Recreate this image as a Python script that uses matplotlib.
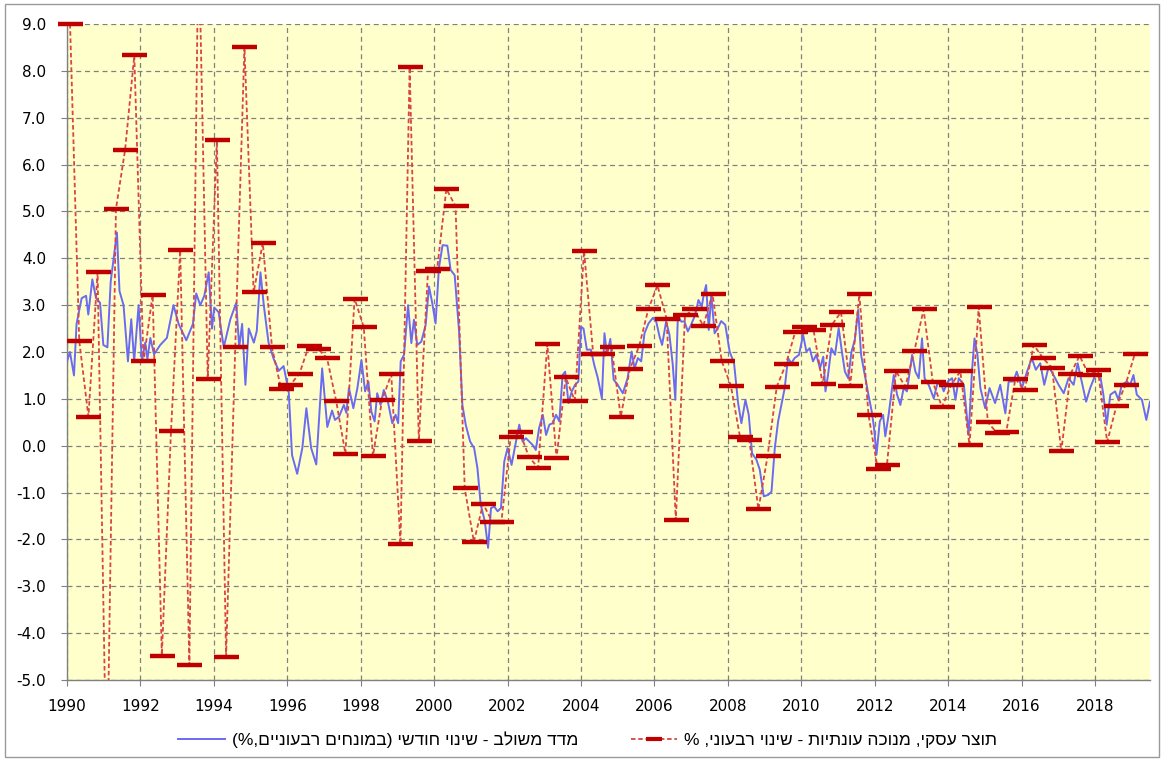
import numpy as np
import matplotlib
matplotlib.use("Agg")
import matplotlib.pyplot as plt
from matplotlib.lines import Line2D
from matplotlib.patches import Rectangle

# ---------------- data ----------------
# Business-sector GDP, seasonally adjusted, quarterly change (%), 1990Q1 .. 2019Q1
gdp_start_year = 1990
gdp_q = [
    9.0, 2.24, 0.62, 3.70,      # 1990
    -7.5, 5.05, 6.32, 8.33,     # 1991 (Q1 below chart)
    1.80, 3.22, -4.48, 0.32,    # 1992
    4.18, -4.68, 11.0, 1.43,    # 1993 (Q3 above chart)
    6.52, -4.50, 2.10, 8.51,    # 1994
    3.27, 4.33, 2.10, 1.21,     # 1995
    1.30, 1.54, 2.12, 2.07,     # 1996
    1.87, 0.95, -0.17, 3.14,    # 1997
    2.53, -0.22, 0.98, 1.52,    # 1998
    -2.10, 8.08, 0.09, 3.73,    # 1999
    3.78, 5.48, 5.11, -0.91,    # 2000
    -2.05, -1.24, -1.62, -1.62, # 2001
    0.18, 0.29, -0.24, -0.47,   # 2002
    2.17, -0.27, 1.46, 0.96,    # 2003
    4.16, 1.96, 1.95, 2.10,     # 2004
    0.62, 1.64, 2.12, 2.91,     # 2005
    3.42, 2.71, -1.59, 2.78,    # 2006
    2.91, 2.56, 3.24, 1.81,     # 2007
    1.28, 0.18, 0.13, -1.36,    # 2008
    -0.22, 1.26, 1.74, 2.42,    # 2009
    2.53, 2.48, 1.31, 2.58,     # 2010
    2.85, 1.28, 3.24, 0.65,     # 2011
    -0.49, -0.42, 1.59, 1.26,   # 2012
    2.03, 2.91, 1.36, 0.83,     # 2013
    1.29, 1.59, 0.01, 2.96,     # 2014
    0.50, 0.27, 0.29, 1.43,     # 2015
    1.18, 2.15, 1.87, 1.66,     # 2016
    -0.12, 1.53, 1.92, 1.51,    # 2017
    1.61, 0.08, 0.84, 1.30,     # 2018
    1.95,                       # 2019
]

# Composite index, monthly change (in quarterly terms, %): points
idx_t = [
    1990.00, 1990.08, 1990.19, 1990.26, 1990.40, 1990.52, 1990.58, 1990.69, 1990.79, 1990.90,
    1990.99, 1991.10, 1991.19, 1991.36, 1991.43, 1991.54, 1991.66, 1991.75, 1991.83, 1991.95,
    1992.04, 1992.13, 1992.19, 1992.27, 1992.37, 1992.54, 1992.72, 1992.90, 1993.04, 1993.25,
    1993.43, 1993.52, 1993.63, 1993.74, 1993.86, 1993.95, 1994.01, 1994.13, 1994.27, 1994.45,
    1994.61, 1994.69, 1994.77, 1994.86, 1994.95, 1995.09, 1995.17, 1995.27, 1995.36, 1995.49,
    1995.63, 1995.77, 1995.90, 1996.04, 1996.13, 1996.27, 1996.41, 1996.52, 1996.65, 1996.79,
    1996.95, 1997.09, 1997.22, 1997.30, 1997.41, 1997.54, 1997.61, 1997.68, 1997.80, 1997.91,
    1998.02, 1998.12, 1998.21, 1998.29, 1998.38, 1998.45, 1998.54, 1998.63, 1998.74, 1998.86,
    1998.95, 1999.02, 1999.09, 1999.18, 1999.29, 1999.38, 1999.45, 1999.54, 1999.65, 1999.77,
    1999.86, 1999.95, 2000.04, 2000.13, 2000.23, 2000.36, 2000.45, 2000.56, 2000.68, 2000.77,
    2000.86, 2000.98, 2001.09, 2001.18, 2001.27, 2001.38, 2001.47, 2001.55, 2001.64, 2001.73,
    2001.82, 2001.91, 2002.00, 2002.11, 2002.23, 2002.32, 2002.41, 2002.50, 2002.59, 2002.68,
    2002.77, 2002.86, 2002.96, 2003.05, 2003.14, 2003.23, 2003.32, 2003.41, 2003.50, 2003.57,
    2003.66, 2003.75, 2003.84, 2003.93, 2004.00, 2004.07, 2004.16, 2004.27, 2004.36, 2004.46,
    2004.57, 2004.64, 2004.71, 2004.80, 2004.89, 2005.00, 2005.14, 2005.27, 2005.38, 2005.46,
    2005.55, 2005.64, 2005.73, 2005.84, 2005.96, 2006.05, 2006.14, 2006.21, 2006.32, 2006.41,
    2006.50, 2006.57, 2006.64, 2006.73, 2006.82, 2006.91, 2007.00, 2007.11, 2007.20, 2007.29,
    2007.35, 2007.41, 2007.48, 2007.55, 2007.64, 2007.73, 2007.82, 2007.93, 2008.05, 2008.17,
    2008.28, 2008.37, 2008.48, 2008.57, 2008.66, 2008.78, 2008.87, 2008.98, 2009.10, 2009.19,
    2009.28, 2009.37, 2009.46, 2009.55, 2009.64, 2009.73, 2009.82, 2009.94, 2010.05, 2010.14,
    2010.23, 2010.32, 2010.41, 2010.51, 2010.60, 2010.66, 2010.73, 2010.82, 2010.92, 2011.02,
    2011.12, 2011.19, 2011.28, 2011.37, 2011.46, 2011.55, 2011.63, 2011.73, 2011.83, 2011.92,
    2011.98, 2012.05, 2012.14, 2012.23, 2012.29, 2012.38, 2012.52, 2012.61, 2012.70, 2012.79,
    2012.88, 2013.02, 2013.11, 2013.20, 2013.29, 2013.36, 2013.47, 2013.61, 2013.70, 2013.79,
    2013.88, 2013.99, 2014.11, 2014.20, 2014.29, 2014.43, 2014.56, 2014.65, 2014.72, 2014.80,
    2014.88, 2015.01, 2015.13, 2015.28, 2015.42, 2015.56, 2015.65, 2015.78, 2015.87, 2016.01,
    2016.15, 2016.28, 2016.39, 2016.51, 2016.62, 2016.74, 2016.87, 2017.01, 2017.15, 2017.28,
    2017.42, 2017.53, 2017.64, 2017.76, 2017.87, 2018.01, 2018.14, 2018.23, 2018.32, 2018.42,
    2018.55, 2018.64, 2018.73, 2018.87, 2018.96, 2019.05, 2019.14, 2019.28, 2019.40, 2019.50,
]
idx_v = [
    1.80, 2.00, 1.50, 2.60, 3.15, 3.20, 2.80, 3.55, 3.15, 3.05,
    2.15, 2.10, 3.50, 4.55, 3.30, 3.00, 1.80, 2.70, 1.80, 3.00,
    1.80, 2.20, 1.85, 2.30, 1.95, 2.15, 2.30, 3.00, 2.60, 2.25,
    2.60, 3.25, 3.00, 3.20, 3.70, 2.50, 2.95, 2.85, 2.10, 2.70,
    3.05, 2.10, 2.60, 1.30, 2.50, 2.20, 2.45, 3.70, 3.00, 2.20,
    1.85, 1.60, 1.70, 1.15, -0.20, -0.60, -0.05, 0.80, -0.05, -0.40,
    1.65, 0.40, 0.75, 0.55, 0.62, 0.87, 0.70, 1.23, 0.80, 1.23,
    1.83, 1.16, 1.37, 0.73, 0.52, 1.12, 0.87, 1.19, 0.94, 0.48,
    0.66, 0.48, 1.80, 1.94, 3.00, 2.19, 2.69, 2.15, 2.22, 2.58,
    3.40, 3.04, 2.61, 3.79, 4.28, 4.27, 3.75, 3.64, 2.44, 0.87,
    0.45, 0.09, -0.05, -0.48, -1.26, -1.61, -2.18, -1.33, -1.30, -1.40,
    -1.33, -0.34, -0.05, -0.41, 0.09, 0.45, 0.09, 0.16, 0.09, 0.02,
    -0.09, 0.38, 0.66, 0.23, 0.45, 0.48, 0.66, 0.52, 1.51, 1.58,
    0.91, 1.16, 1.30, 1.37, 2.54, 2.50, 2.05, 2.05, 1.73, 1.44,
    1.01, 2.40, 1.94, 2.28, 1.41, 1.30, 1.12, 1.44, 2.01, 1.65,
    1.87, 1.80, 2.40, 2.61, 2.73, 2.65, 2.33, 2.15, 2.65, 2.37,
    1.73, 0.98, 2.79, 2.65, 2.65, 2.44, 2.58, 2.79, 3.11, 2.97,
    3.25, 3.43, 2.47, 3.22, 2.40, 2.51, 2.66, 2.58, 2.01, 1.76,
    0.91, 0.48, 0.98, 0.66, -0.16, -0.30, -0.51, -1.08, -1.05, -0.98,
    -0.05, 0.52, 0.87, 1.23, 1.87, 1.76, 1.87, 1.94, 2.37, 2.01,
    2.08, 1.80, 1.94, 1.65, 1.90, 1.16, 1.51, 2.08, 1.94, 2.51,
    1.94, 1.58, 1.44, 2.01, 2.26, 2.90, 1.94, 1.51, 1.09, 0.73,
    0.40, -0.19, 0.52, 0.66, 0.20, 0.66, 1.51, 1.09, 0.87, 1.23,
    1.16, 1.94, 1.58, 1.44, 2.29, 1.44, 1.30, 1.01, 1.30, 1.37,
    1.16, 1.37, 1.44, 0.98, 1.44, 1.30, 0.23, 1.58, 2.29, 1.94,
    1.23, 0.80, 1.23, 0.91, 1.30, 0.69, 1.37, 1.37, 1.58, 1.23,
    1.58, 1.87, 1.62, 1.76, 1.30, 1.69, 1.51, 1.30, 1.12, 1.44,
    1.30, 1.76, 1.37, 0.94, 1.23, 1.51, 1.51, 1.09, 0.45, 1.09,
    1.16, 0.98, 1.30, 1.37, 1.30, 1.51, 1.09, 0.98, 0.55, 0.94,
]

x_ticks = list(range(1990, 2019, 2))
y_ticks = list(range(-5, 10))

# Hebrew legend labels, given in visual (left-to-right display) order
label_idx = "(%,םיינועבר םיחנומב) ישדוח יוניש - בלושמ דדמ"
label_gdp = "% ,ינועבר יוניש - תויתנוע הכונמ ,יקסע רצות"

# ---------------- figure ----------------
W, H = 1164, 761
fig = plt.figure(figsize=(W / 100, H / 100), dpi=100)
fig.patch.set_facecolor("white")

left_px, right_px, top_px, bot_px = 67, 1150, 24, 680
ax = fig.add_axes([left_px / W, 1 - bot_px / H,
                   (right_px - left_px) / W, (bot_px - top_px) / H])
ax.set_facecolor("#FFFFCC")

blue = "#6a6af2"
red_line = "#d94444"
red_mark = "#c00000"

gdp_x = gdp_start_year + (1 + 3 * np.arange(len(gdp_q))) / 12.0
gdp_arr = np.array(gdp_q)

ax.plot(idx_t, idx_v, color=blue, lw=1.4, zorder=3, solid_joinstyle="round")
ax.plot(gdp_x, gdp_arr, color=red_line, lw=1.3, ls=(0, (2.5, 1.5)), zorder=4)
shown = np.ma.masked_outside(gdp_arr, -5, 9)
ax.plot(gdp_x, shown, ls="none", marker="_", ms=18, mew=3.2,
        color=red_mark, zorder=5, clip_on=False)

ax.set_xlim(1990, 2019.5)
ax.set_ylim(-5, 9)
ax.set_xticks(x_ticks)
ax.set_yticks(y_ticks)
ax.set_yticklabels([f"{v:.1f}" for v in y_ticks])
ax.tick_params(axis="both", direction="out", length=4, width=0.8,
               color="#808080", labelcolor="black", labelsize=11)
ax.tick_params(axis="x", pad=10)
ax.tick_params(axis="y", pad=11)

ax.grid(True, color="#808080", ls=(0, (4, 3)), lw=0.9, zorder=1)
ax.set_axisbelow(True)
for s in ("top", "right"):
    ax.spines[s].set_visible(False)
for s in ("left", "bottom"):
    ax.spines[s].set_color("#808080")
    ax.spines[s].set_linewidth(1.0)

# legend
h1 = Line2D([], [], color=blue, lw=1.4)
h2 = Line2D([], [], color=red_line, lw=1.3, ls=(0, (2.5, 1.5)),
            marker="_", ms=12, mew=3, mec=red_mark)
fig.legend([h1, h2], [label_idx, label_gdp], loc="center",
           bbox_to_anchor=(0.505, 0.028), ncol=2, frameon=False,
           handlelength=2.7, columnspacing=3.0, handletextpad=0.4,
           prop={"family": ["Liberation Sans", "DejaVu Sans"], "size": 12.5})

# outer chart-area border
fig.patches.append(Rectangle((5 / W, 4 / H), (W - 10) / W, (H - 8) / H,
                             transform=fig.transFigure, fill=False,
                             ec="#9a9a9a", lw=1.0))

fig.savefig("out.png", dpi=100)
